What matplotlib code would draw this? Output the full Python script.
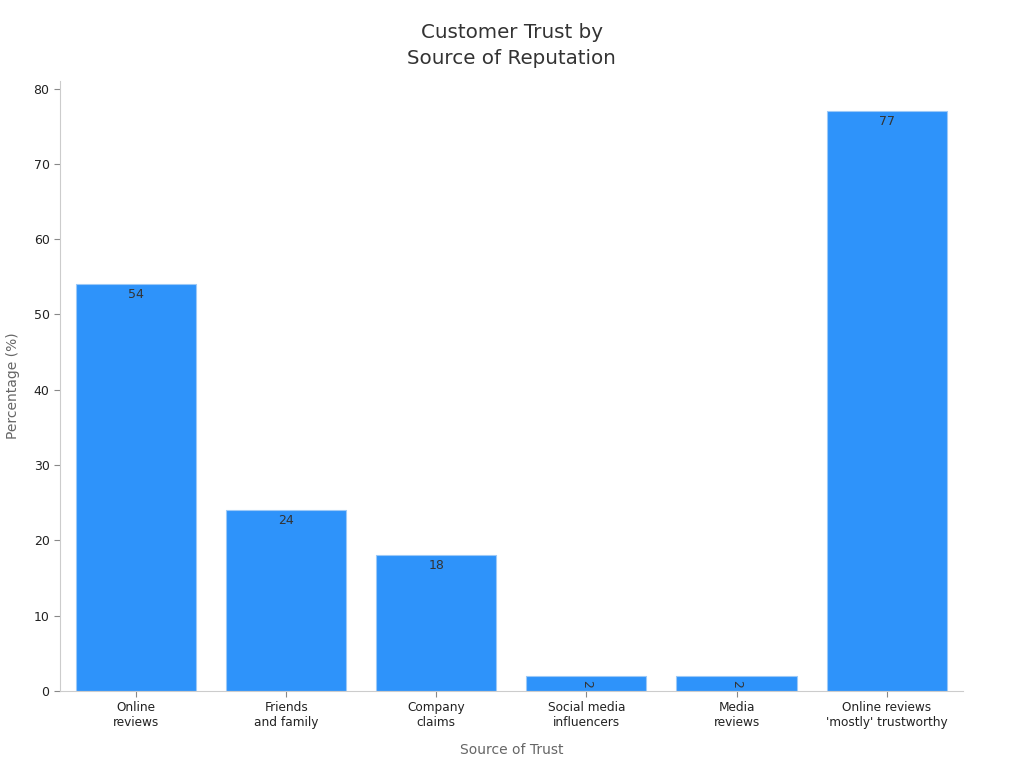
import matplotlib.pyplot as plt

categories = ["Online\nreviews", "Friends\nand family", "Company\nclaims",
              "Social media\ninfluencers", "Media\nreviews",
              "Online reviews\n'mostly' trustworthy"]
values = [54, 24, 18, 2, 2, 77]

fig = plt.figure(figsize=(10.24, 7.68), dpi=100)
ax = fig.add_axes([0.0586, 0.1003, 0.882, 0.7942])

x = range(len(values))
bars = ax.bar(x, values, width=0.8, color="#2E93FA", edgecolor="#9cc9f7", linewidth=0.8)

# small bars get their label turned on its side
for b, v in zip(bars, values):
    rot = 270 if v < 5 else 0
    ax.text(b.get_x() + b.get_width() / 2, v - 0.5, str(v), ha="center", va="top",
            fontsize=9, color="#333333", rotation=rot)

ax.set_xlim(-0.507, 5.51)
ax.set_ylim(0, 81)
ax.set_xticks(list(x))
ax.set_xticklabels(categories, fontsize=8.7, color="#222222")
ax.tick_params(axis="y", labelsize=9, colors="#222222")
ax.tick_params(axis="both", color="#888888", length=4)
ax.set_yticks(range(0, 81, 10))

for s in ["top", "right"]:
    ax.spines[s].set_visible(False)
for s in ["left", "bottom"]:
    ax.spines[s].set_color("#cccccc")

ax.set_xlabel("Source of Trust", fontsize=10, color="#666666", labelpad=10)
ax.set_ylabel("Percentage (%)", fontsize=10, color="#666666", labelpad=10)
ax.set_title("Customer Trust by\nSource of Reputation", fontsize=14.3, color="#333333",
             pad=12, linespacing=1.5)

fig.savefig("out.png")
